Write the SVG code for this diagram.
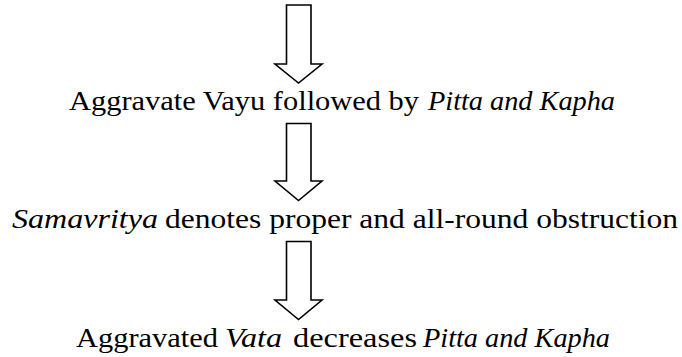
<svg xmlns="http://www.w3.org/2000/svg" width="682" height="357" viewBox="0 0 682 357">
<style>
.arrow{fill:#fff;stroke:#000;stroke-width:1.6;stroke-linejoin:miter}
.lbl{font-family:"Liberation Serif","DejaVu Serif",serif;font-size:27px;fill:#000}
.it{font-style:italic}
</style>
<rect width="682" height="357" fill="#fff"/>
<g id="connectors">
<path class="arrow" d="M286.5,5 H311 V64 H322 L298.5,83 L275,64 H286.5 Z"/>
<path class="arrow" d="M286.5,123.5 H311 V181 H322 L298.5,200.5 L275,181 H286.5 Z"/>
<path class="arrow" d="M286.5,241.5 H311 V300 H322 L298.5,319.5 L275,300 H286.5 Z"/>
</g>
<g id="node1">
<text class="lbl" x="69" y="109.5" textLength="350" lengthAdjust="spacingAndGlyphs">Aggravate Vayu followed by</text>
<text class="lbl it" x="428" y="109.5" textLength="187" lengthAdjust="spacingAndGlyphs">Pitta and Kapha</text>
</g>
<g id="node2">
<text class="lbl it" x="12" y="228" textLength="146" lengthAdjust="spacingAndGlyphs">Samavritya</text>
<text class="lbl" x="165" y="228" textLength="513" lengthAdjust="spacingAndGlyphs">denotes proper and all-round obstruction</text>
</g>
<g id="node3">
<text class="lbl" x="76" y="347" textLength="142" lengthAdjust="spacingAndGlyphs">Aggravated</text>
<text class="lbl it" x="225" y="347" textLength="57" lengthAdjust="spacingAndGlyphs">Vata</text>
<text class="lbl" x="293" y="347" textLength="124" lengthAdjust="spacingAndGlyphs">decreases</text>
<text class="lbl it" x="423" y="347" textLength="187" lengthAdjust="spacingAndGlyphs">Pitta and Kapha</text>
</g>
</svg>
